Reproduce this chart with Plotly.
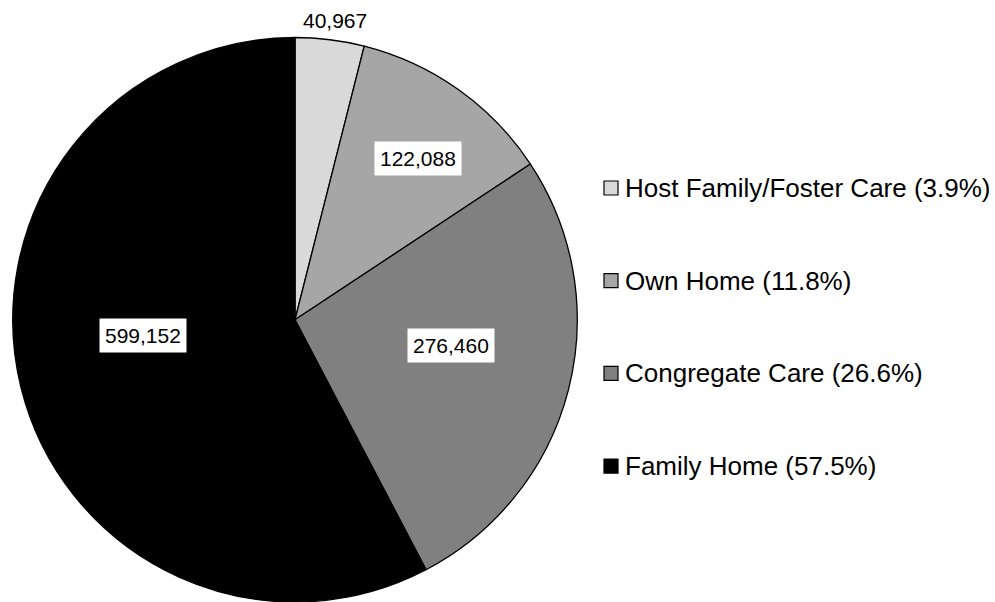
import math
import plotly.graph_objects as go

# ---- data ----
categories = ["Host Family/Foster Care", "Own Home", "Congregate Care", "Family Home"]
values = [40967, 122088, 276460, 599152]
legend_pcts = ["3.9%", "11.8%", "26.6%", "57.5%"]
colors = ["#d9d9d9", "#a6a6a6", "#808080", "#000000"]

# ---- styling ----
W, H = 995, 602
FONT = "Liberation Sans, Arial, sans-serif"
dom_x = [12 / W, 578 / W]
dom_y = [0.0, 1 - 37.5 / H]
label_rfrac = [1.07, 0.72, 0.56, 0.54]   # radial placement of value labels
label_nudge = [0.5, 2.0, -5.0, 8.0]       # degrees
label_box = [False, True, True, True]

fig = go.Figure(go.Pie(
    labels=categories,
    values=values,
    sort=False,
    direction="clockwise",
    rotation=0,
    marker=dict(colors=colors, line=dict(color="#000000", width=1.3)),
    textinfo="none",
    hoverinfo="label+value+percent",
    showlegend=False,
    domain=dict(x=dom_x, y=dom_y),
))

# pie geometry in pixels (plotly: radius = min(w,h)/2 of domain)
dw = (dom_x[1] - dom_x[0]) * W
dh = (dom_y[1] - dom_y[0]) * H
R = min(dw, dh) / 2
cx = (dom_x[0] + dom_x[1]) / 2 * W
cy = H - (dom_y[0] + dom_y[1]) / 2 * H

total = sum(values)
cum = 0
annotations = []
for i, v in enumerate(values):
    mid = (cum + v / 2) / total * 360 + label_nudge[i]
    cum += v
    d = R * label_rfrac[i]
    px = cx + d * math.sin(math.radians(mid))
    py = cy - d * math.cos(math.radians(mid))
    annotations.append(dict(
        x=px / W, y=1 - py / H, xref="paper", yref="paper",
        text=f"{v:,}", showarrow=False,
        xanchor="center", yanchor="middle",
        font=dict(family=FONT, size=21, color="#000000"),
        bgcolor="#ffffff" if label_box[i] else "rgba(0,0,0,0)",
        borderpad=5 if label_box[i] else 0,
    ))

# manual legend
leg_x_px = 604
leg_y0_px = 188
leg_step_px = 92.7
shapes = []
for i, (cat, pct) in enumerate(zip(categories, legend_pcts)):
    yc = leg_y0_px + i * leg_step_px
    shapes.append(dict(
        type="rect", xref="paper", yref="paper",
        x0=leg_x_px / W, x1=(leg_x_px + 14) / W,
        y0=1 - (yc + 7) / H, y1=1 - (yc - 7) / H,
        fillcolor=colors[i], line=dict(color="#000000", width=1.2),
    ))
    annotations.append(dict(
        x=(leg_x_px + 19) / W, y=1 - yc / H, xref="paper", yref="paper",
        text=f"{cat} ({pct})", showarrow=False,
        xanchor="left", yanchor="middle",
        font=dict(family=FONT, size=26, color="#000000"),
    ))

fig.update_layout(
    width=W, height=H,
    margin=dict(l=0, r=0, t=0, b=0),
    paper_bgcolor="#ffffff",
    plot_bgcolor="#ffffff",
    annotations=annotations,
    shapes=shapes,
)

fig.write_html("out.html", config={"displayModeBar": False},
               post_script="document.body.style.margin='0px';")
